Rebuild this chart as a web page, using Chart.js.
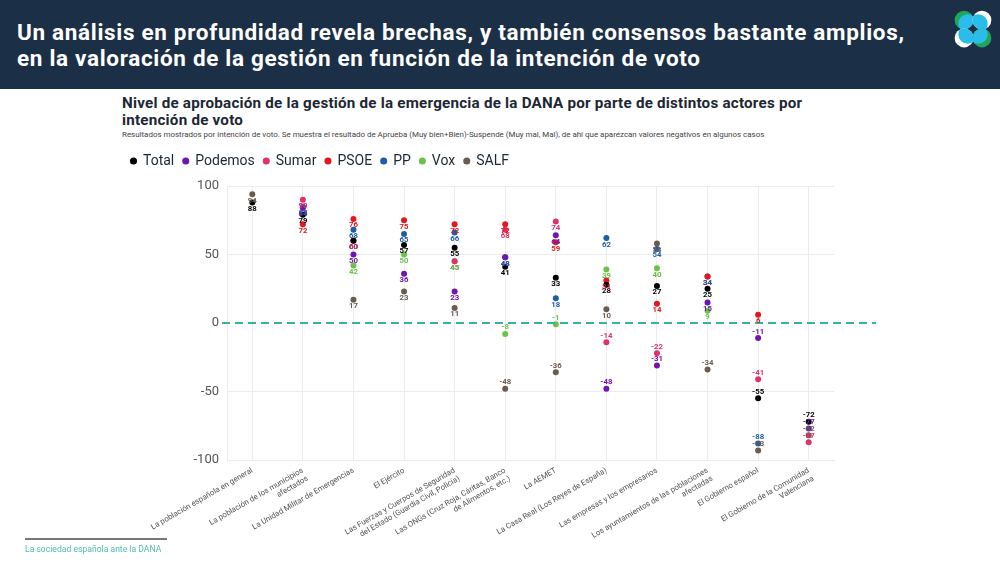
<!DOCTYPE html>
<html lang="es">
<head>
<meta charset="utf-8">
<script src="https://cdn.jsdelivr.net/npm/chart.js@4.4.1/dist/chart.umd.min.js"></script>
<style>
  html,body{margin:0;padding:0;background:#fff;}
  body{width:1000px;height:563px;position:relative;overflow:hidden;font-family:Roboto,"Open Sans",sans-serif;}
  #header{position:absolute;left:0;top:0;width:1000px;height:89px;background:#1b2f47;}
  #header h1{position:absolute;left:17px;top:19px;margin:0;color:#fff;font-weight:700;font-size:22.5px;line-height:26px;letter-spacing:0.68px;}
  #logo{position:absolute;left:952px;top:8px;}
  #ctitle{position:absolute;left:122px;top:95px;margin:0;color:#1d2733;font-weight:700;font-size:15.2px;line-height:17px;letter-spacing:0.22px;}
  #csub{position:absolute;left:122px;top:130px;margin:0;color:#444;font-size:7.95px;}
  #wrap{position:absolute;left:122px;top:145px;width:760px;height:395px;}
  #footline{position:absolute;left:25px;top:538px;width:142px;height:1.5px;background:#777;}
  #foot{position:absolute;left:25px;top:544px;color:#4cbcae;font-size:8.6px;}
</style>
</head>
<body>
<div id="header">
  <h1>Un análisis en profundidad revela brechas, y también consensos bastante amplios,<br>en la valoración de la gestión en función de la intención de voto</h1>
  <svg id="logo" width="42" height="42" viewBox="0 0 40 40">
    <defs>
      <clipPath id="c1"><circle cx="11.5" cy="11.5" r="9"/></clipPath>
      <clipPath id="c2"><circle cx="28.5" cy="11.5" r="9"/></clipPath>
      <clipPath id="c3"><circle cx="11.5" cy="28.5" r="9"/></clipPath>
      <clipPath id="c4"><circle cx="28.5" cy="28.5" r="9"/></clipPath>
    </defs>
    <g clip-path="url(#c1)"><rect x="0" y="0" width="40" height="40" fill="#1fa65a"/><circle cx="15" cy="15" r="9" fill="#2bbde9"/></g>
    <g clip-path="url(#c2)"><rect x="0" y="0" width="40" height="40" fill="#ffffff"/><circle cx="25" cy="15" r="9" fill="#2bbde9"/></g>
    <g clip-path="url(#c3)"><rect x="0" y="0" width="40" height="40" fill="#ffffff"/><circle cx="15" cy="25" r="9" fill="#2bbde9"/></g>
    <g clip-path="url(#c4)"><rect x="0" y="0" width="40" height="40" fill="#1fa65a"/><circle cx="25" cy="25" r="9" fill="#2bbde9"/></g>
  </svg>
</div>
<p id="ctitle">Nivel de aprobación de la gestión de la emergencia de la DANA por parte de distintos actores por<br>intención de voto</p>
<p id="csub">Resultados mostrados por intención de voto. Se muestra el resultado de Aprueba (Muy bien+Bien)-Suspende (Muy mal, Mal), de ahí que aparezcan valores negativos en algunos casos</p>
<div id="wrap"><canvas id="chart"></canvas></div>
<div id="footline"></div>
<div id="foot">La sociedad española ante la DANA</div>
<script>
const categories = [
  "La población española en general",
  ["La población de los municipios", "afectados"],
  "La Unidad Militar de Emergencias",
  "El Ejército",
  ["Las Fuerzas y Cuerpos de Seguridad", "del Estado (Guardia Civil, Policía)"],
  ["Las ONGs (Cruz Roja, Cáritas, Banco", "de Alimentos, etc.)"],
  "La AEMET",
  "La Casa Real (Los Reyes de España)",
  "Las empresas y los empresarios",
  ["Los ayuntamientos de las poblaciones", "afectadas"],
  "El Gobierno español",
  ["El Gobierno de la Comunidad", "Valenciana"]
];
const seriesNames = ["Total", "Podemos", "Sumar", "PSOE", "PP", "Vox", "SALF"];
const total   = [88, 79, 60, 57, 55, 41, 33, 28, 27, 25, -55, -72];
const podemos = [null, 84, 50, 36, 23, 48, 64, -48, -31, 15, -11, -77];
const sumar   = [null, 90, 60, null, 45, 68, 74, -14, -22, null, -41, -87];
const psoe    = [null, 72, 76, 75, 72, 72, 59, 31, 14, 34, 6, null];
const pp      = [null, 85, 68, 65, 66, 48, 18, 62, 54, 34, -88, null];
const vox     = [null, null, 42, 50, 45, -8, -1, 39, 40, 9, null, null];
const salf    = [94, null, 17, 23, 11, -48, -36, 10, 58, -34, -93, -82];
const yTicks  = [-100, -50, 0, 50, 100];

const colors = ["#000000", "#6e17b0", "#e2306a", "#e3181f", "#1f5ea6", "#6cc14a", "#6b5c52"];
const values = [total, podemos, sumar, psoe, pp, vox, salf];

const datasets = seriesNames.map((n, i) => ({
  label: n,
  data: values[i],
  backgroundColor: colors[i],
  borderColor: colors[i],
  showLine: false,
  pointRadius: 3,
  pointHoverRadius: 3,
  pointBorderWidth: 0,
  pointStyle: 'circle'
}));

const legendGap = {
  id: 'legendGap',
  beforeInit(chart) {
    const origFit = chart.legend.fit;
    chart.legend.fit = function () {
      origFit.bind(chart.legend)();
      this.height += 8;
    };
  }
};

const zeroLine = {
  id: 'zeroLine',
  afterDatasetsDraw(chart) {
    const {ctx, chartArea, scales} = chart;
    const y = scales.y.getPixelForValue(0);
    ctx.save();
    ctx.strokeStyle = '#2fb5a2';
    ctx.lineWidth = 2;
    ctx.setLineDash([8, 5]);
    ctx.beginPath();
    ctx.moveTo(chartArea.left - 5, y);
    ctx.lineTo(chartArea.right + 42, y);
    ctx.stroke();
    ctx.restore();
  }
};

const pointLabels = {
  id: 'pointLabels',
  afterDraw(chart) {
    const ctx = chart.ctx;
    ctx.save();
    ctx.font = 'bold 7.8px Roboto, sans-serif';
    ctx.textAlign = 'center';
    ctx.textBaseline = 'middle';
    chart.data.datasets.forEach((ds, i) => {
      const meta = chart.getDatasetMeta(i);
      meta.data.forEach((pt, j) => {
        const v = ds.data[j];
        if (v === null || v === undefined) return;
        ctx.fillStyle = ds.borderColor;
        const dy = v >= 0 ? 6.5 : -6.5;
        ctx.fillText(String(v), pt.x, pt.y + dy);
      });
    });
    ctx.restore();
  }
};

new Chart(document.getElementById('chart'), {
  type: 'line',
  data: { labels: categories, datasets },
  plugins: [legendGap, zeroLine, pointLabels],
  options: {
    responsive: true,
    maintainAspectRatio: false,
    animation: false,
    layout: { padding: { right: 48, top: 0, bottom: 0, left: 0 } },
    plugins: {
      legend: {
        display: true,
        position: 'top',
        align: 'start',
        labels: {
          usePointStyle: true,
          pointStyle: 'circle',
          boxWidth: 5,
          boxHeight: 5,
          padding: 9,
          color: '#1d2733',
          font: { size: 14, family: 'Roboto, sans-serif' }
        }
      },
      tooltip: { enabled: false }
    },
    scales: {
      x: {
        type: 'category',
        offset: true,
        grid: { color: '#ececec', drawTicks: false },
        border: { display: true, color: '#ececec' },
        ticks: {
          minRotation: 30,
          maxRotation: 30,
          autoSkip: false,
          padding: 6,
          color: '#555',
          font: { size: 7.8, family: 'Roboto, sans-serif' }
        },
        afterFit(scale) { scale.height = 80; }
      },
      y: {
        min: -100,
        max: 100,
        grid: {
          color: (c) => (c.tick && c.tick.value === 0) ? 'rgba(0,0,0,0)' : '#ececec',
          drawTicks: false
        },
        border: { display: true, color: '#ececec' },
        afterBuildTicks(scale) { scale.ticks = yTicks.map(v => ({ value: v })); },
        ticks: {
          padding: 8,
          color: '#555',
          font: { size: 13, family: 'Roboto, sans-serif' }
        },
        afterFit(scale) { scale.width = 105; }
      }
    }
  }
});
</script>
</body>
</html>
